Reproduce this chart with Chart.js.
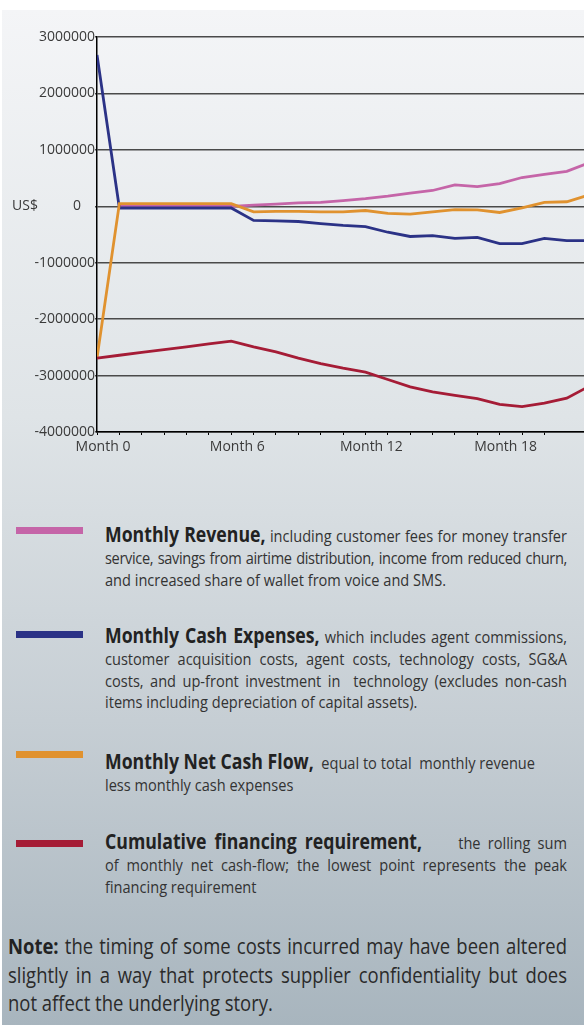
<!DOCTYPE html>
<html lang="en">
<head>
    <meta charset="UTF-8">
    <title>Monthly cash flow</title>
    <style>
        body { margin: 0; background: #fff; width: 584px; height: 1027px; overflow: hidden; position: relative; font-family: 'Open Sans', sans-serif; }
        .panel { position: absolute; left: 2px; top: 10px; right: 0; height: 1015px; background: linear-gradient(180deg, #f4f5f7 0%, #dfe4e7 40%, #c6ced4 70%, #a8b5be 100%); }
        #chart { position: absolute; left: 0; top: 0; }
        .swatch { position: absolute; left: 16px; width: 67px; height: 7px; }
        .para { position: absolute; left: 105px; font-size: 17px; line-height: 21.8px; color: #333; transform-origin: 0 0; }
        .para b { color: #222; line-height: 0; }
        .ln.j { text-align: justify; text-align-last: justify; }
        .ln.tight { letter-spacing: -0.4px; }
        .note { left: 8px; color: #2a2a2a; line-height: 28.5px; }
    </style>
</head>
<body>
    <div class="panel"></div>
    <canvas id="chart" width="584" height="470"></canvas>

    <!-- Legend -->
    <div class="swatch" style="top: 527px; background: #c565a8;"></div>
    <div class="para" style="top: 525px;" data-w="462">
        <div class="ln j"><b>Monthly Revenue,</b> including customer fees for money transfer</div>
        <div class="ln j tight">service, savings from airtime distribution, income from reduced churn,</div>
        <div class="ln">and increased share of wallet from voice and SMS.</div>
    </div>

    <div class="swatch" style="top: 631px; background: #2b3286;"></div>
    <div class="para" style="top: 626px;" data-w="462">
        <div class="ln j"><b>Monthly Cash Expenses,</b> which includes agent commissions,</div>
        <div class="ln j">customer acquisition costs, agent costs, technology costs, SG&amp;A</div>
        <div class="ln j">costs, and up-front investment in&nbsp; technology (excludes non-cash</div>
        <div class="ln">items including depreciation of capital assets).</div>
    </div>

    <div class="swatch" style="top: 751px; background: #e0922f;"></div>
    <div class="para" style="top: 752px;" data-w="462">
        <div class="ln"><b>Monthly Net Cash Flow,</b>&nbsp; equal to total&nbsp; monthly revenue</div>
        <div class="ln">less monthly cash expenses</div>
    </div>

    <div class="swatch" style="top: 840px; background: #a51c36;"></div>
    <div class="para" style="top: 832px;" data-w="462">
        <div class="ln j"><b>Cumulative financing requirement,</b> &nbsp; &nbsp; the rolling sum</div>
        <div class="ln j">of monthly net cash-flow; the lowest point represents the peak</div>
        <div class="ln">financing requirement</div>
    </div>

    <div class="para note" style="top: 932px;" data-w="559">
        <div class="ln j"><b>Note:</b> the timing of some costs incurred may have been altered</div>
        <div class="ln j">slightly in a way that protects supplier confidentiality but does</div>
        <div class="ln">not affect the underlying story.</div>
    </div>

    <script src="https://cdn.jsdelivr.net/npm/chart.js"></script>
    <script>
        // data (US$)
        const months = [0, 1, 2, 3, 4, 5, 6, 7, 8, 9, 10, 11, 12, 13, 14, 15, 16, 17, 18, 19, 20, 21, 22];
        const monthLabels = ['Month 0', 'Month 6', 'Month 12', 'Month 18'];
        const revenue = [null, 0, 0, 0, 0, 0, 0, 20000, 40000, 60000, 70000, 100000, 135000, 180000, 235000, 280000, 380000, 350000, 400000, 510000, 565000, 620000, 770000];
        const expenses = [2680000, -30000, -30000, -30000, -30000, -30000, -30000, -250000, -260000, -270000, -306000, -340000, -360000, -460000, -535000, -520000, -570000, -550000, -660000, -660000, -570000, -610000, -610000];
        const netFlow = [-2690000, 47000, 47000, 47000, 47000, 47000, 47000, -100000, -90000, -90000, -100000, -100000, -75000, -125000, -140000, -100000, -60000, -65000, -110000, -30000, 70000, 80000, 200000];
        const cumulative = [-2690000, -2640000, -2590000, -2540000, -2490000, -2440000, -2390000, -2490000, -2580000, -2690000, -2790000, -2870000, -2940000, -3070000, -3200000, -3290000, -3350000, -3410000, -3510000, -3550000, -3490000, -3400000, -3190000];

        const pts = arr => months.map((m, i) => ({ x: m, y: arr[i] }));
        const line = (label, arr, color) => ({ label, data: pts(arr), borderColor: color, borderWidth: 2.8, pointRadius: 0, tension: 0, fill: false });

        const usdLabel = {
            id: 'usdLabel',
            afterDraw(chart) {
                const ctx = chart.ctx;
                const y = chart.scales.y.getPixelForValue(0);
                ctx.save();
                ctx.font = '14px "Open Sans"';
                ctx.fillStyle = '#3a3a3a';
                ctx.textBaseline = 'middle';
                ctx.fillText('US$', 12, y);
                ctx.restore();
            }
        };

        new Chart(document.getElementById('chart').getContext('2d'), {
            type: 'line',
            data: {
                datasets: [
                    line('Cumulative financing requirement', cumulative, '#a51c36'),
                    line('Monthly Net Cash Flow', netFlow, '#e0922f'),
                    line('Monthly Cash Expenses', expenses, '#2b3286'),
                    line('Monthly Revenue', revenue, '#c565a8')
                ]
            },
            options: {
                responsive: false,
                animation: false,
                devicePixelRatio: 1,
                layout: { padding: { top: 37, right: 0, left: 0, bottom: 0 } },
                plugins: { legend: { display: false }, tooltip: { enabled: false } },
                scales: {
                    x: {
                        type: 'linear', min: 0, max: 21.77,
                        afterFit(s) { s.height = 38; },
                        afterBuildTicks(s) { s.ticks = s.ticks.filter(t => Number.isInteger(t.value)); },
                        border: { color: '#000', width: 1.5 },
                        grid: { drawOnChartArea: false, drawTicks: true, tickLength: 3, color: '#000', lineWidth: 1 },
                        ticks: {
                            stepSize: 1, autoSkip: false, maxRotation: 0, padding: 4, labelOffset: 6,
                            color: '#3a3a3a', font: { family: "'Open Sans'", size: 14 },
                            callback: v => v % 6 === 0 ? monthLabels[v / 6] : ''
                        }
                    },
                    y: {
                        min: -4000000, max: 3000000,
                        afterFit(s) { s.width = 97; },
                        border: { color: '#000', width: 1.5 },
                        grid: { color: '#4a4a4a', lineWidth: 1.5, tickLength: 2 },
                        ticks: {
                            stepSize: 1000000, padding: 0,
                            color: '#3a3a3a', font: { family: "'Open Sans'", size: 14 },
                            callback: v => v === 0 ? '0\u2003' : String(v)
                        }
                    }
                }
            },
            plugins: [usdLabel]
        });

        // squeeze the legend text to the narrow look of the original
        const mctx = document.createElement('canvas').getContext('2d');
        const w = (txt, font) => { mctx.font = font; return mctx.measureText(txt).width; };
        const s = 341 / w('and increased share of wallet from voice and SMS.', '17px "Open Sans"');
        const boldSize = 20 * 160 / (s * w('Monthly Revenue,', 'bold 20px "Open Sans"'));
        const noteSize = 20 * 265 / (s * w('not affect the underlying story.', '20px "Open Sans"'));
        document.querySelectorAll('.para').forEach(p => {
            p.style.width = (p.dataset.w / s) + 'px';
            p.style.transform = 'scaleX(' + s + ')';
            if (p.classList.contains('note')) p.style.fontSize = noteSize + 'px';
            else p.querySelectorAll('b').forEach(b => b.style.fontSize = boldSize + 'px');
        });
    </script>
</body>
</html>
